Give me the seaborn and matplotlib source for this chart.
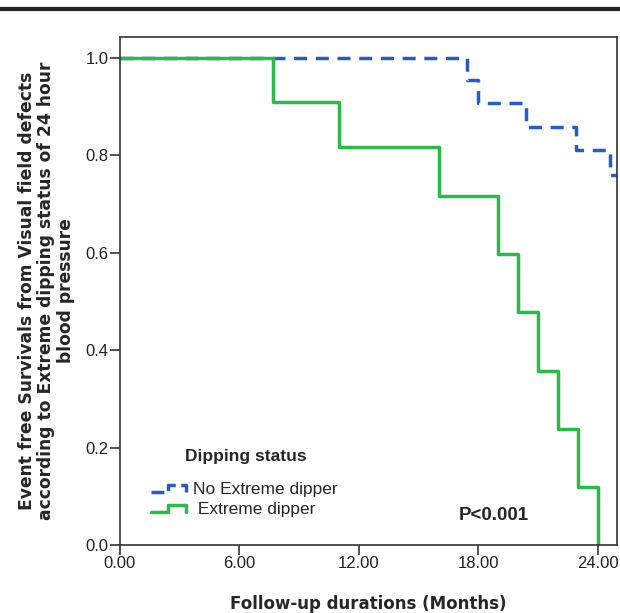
import numpy as np
import pandas as pd
import seaborn as sns
import matplotlib.pyplot as plt
from matplotlib.lines import Line2D
from matplotlib.legend_handler import HandlerBase

# Kaplan-Meier steps
no_ext_time = [0.0, 17.4, 18.0, 20.4, 22.9, 24.6, 24.95]
no_ext_surv = [1.0, 0.955, 0.907, 0.858, 0.810, 0.760, 0.760]
ext_time = [0.0, 7.7, 11.0, 16.0, 19.0, 20.0, 21.0, 22.0, 23.0, 24.0]
ext_surv = [1.0, 0.909, 0.818, 0.716, 0.597, 0.478, 0.358, 0.239, 0.119, 0.0]
groups = ["No Extreme dipper", " Extreme dipper"]
x_ticks = [0, 6, 12, 18, 24]
y_ticks = [0.0, 0.2, 0.4, 0.6, 0.8, 1.0]

blue = "#2a5cbf"
green = "#2db84b"

sns.set_style("ticks")
plt.rcParams["font.family"] = ["Liberation Sans", "DejaVu Sans"]

df_no = pd.DataFrame({"time": no_ext_time, "surv": no_ext_surv})
df_ext = pd.DataFrame({"time": ext_time, "surv": ext_surv})

fig = plt.figure(figsize=(6.2, 6.13), dpi=100)
ax = fig.add_axes([0.1935, 0.111, 0.8015, 0.8286])

sns.lineplot(data=df_no, x="time", y="surv", ax=ax, color=blue, lw=2.5,
             drawstyle="steps-post", estimator=None, sort=False,
             linestyle=(0, (3.75, 2.5)))
sns.lineplot(data=df_ext, x="time", y="surv", ax=ax, color=green, lw=2.5,
             drawstyle="steps-post", estimator=None, sort=False)

ax.set_xlim(0, 24.95)
ax.set_ylim(0, 1.043)
ax.set_xticks(x_ticks)
ax.set_xticklabels([f"{v:.2f}" for v in x_ticks])
ax.set_yticks(y_ticks)
ax.set_yticklabels([f"{v:.1f}" for v in y_ticks])
ax.tick_params(length=7, width=1.2, color="#333333", labelsize=12, pad=1,
               labelcolor="#222222")
for s in ax.spines.values():
    s.set_color("#333333")
    s.set_linewidth(1.2)

ax.set_xlabel("Follow-up durations (Months)", fontsize=12.0, fontweight="bold",
              family="DejaVu Sans", labelpad=17)
ax.set_ylabel("Event free Survivals from Visual field defects\n"
              "according to Extreme dipping status of 24 hour\n"
              "blood pressure", fontsize=12.3, fontweight="bold",
              family="DejaVu Sans", labelpad=8, linespacing=1.1)


# SPSS-like step handles in the legend
class StepHandler(HandlerBase):
    def create_artists(self, legend, orig, xd, yd, w, h, fontsize, trans):
        xs = [xd, xd + 0.5 * w, xd + 0.5 * w, xd + w, xd + w]
        ys = [yd + 0.15 * h, yd + 0.15 * h, yd + 0.75 * h, yd + 0.75 * h, yd + 0.15 * h]
        ln = Line2D(xs, ys, color=orig.get_color(), lw=orig.get_linewidth(),
                    linestyle=orig.get_linestyle(), transform=trans)
        return [ln]


h_no = Line2D([], [], color=blue, lw=2.5, linestyle=(0, (3.75, 2.5)))
h_ext = Line2D([], [], color=green, lw=2.5)
ax.legend([h_no, h_ext], groups, handler_map={Line2D: StepHandler()},
          loc="upper left", bbox_to_anchor=(0.062, 0.125), frameon=False,
          borderpad=0, borderaxespad=0, fontsize=12.5, handlelength=2.0,
          handletextpad=0.45, labelspacing=0.3)
ax.text(0.2535, 0.175, "Dipping status", transform=ax.transAxes, ha="center",
        va="center", fontsize=12.5, fontweight="bold")
ax.text(18.77, 0.06, "P<0.001", ha="center", va="center", fontsize=13.5,
        fontweight="bold")

# thick rule at the top of the page
fig.add_artist(Line2D([0, 1], [0.985, 0.985], transform=fig.transFigure,
                      color="#222222", lw=3))

fig.savefig("out.png", dpi=100)
